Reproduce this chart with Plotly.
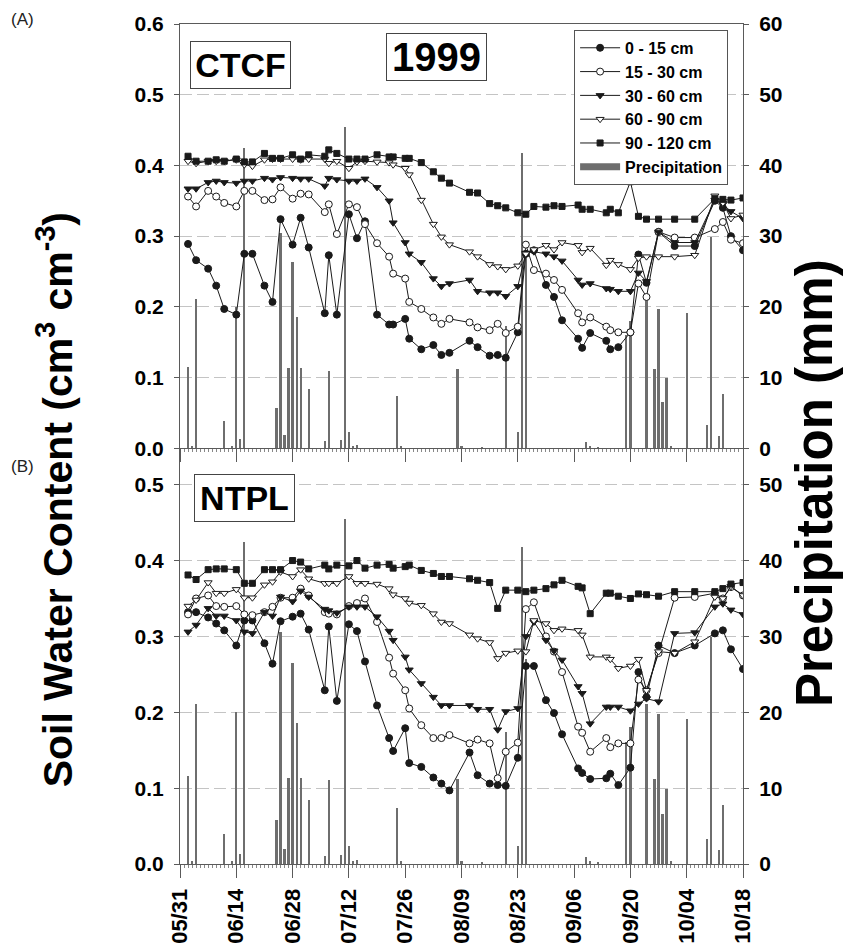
import plotly.graph_objects as go

# ---------------- data ----------------
DATES = ["1999-06-02", "1999-06-04", "1999-06-07", "1999-06-09", "1999-06-11", "1999-06-14",
         "1999-06-16", "1999-06-18", "1999-06-21", "1999-06-23", "1999-06-25", "1999-06-28",
         "1999-06-30", "1999-07-02", "1999-07-06", "1999-07-07", "1999-07-09", "1999-07-12",
         "1999-07-14", "1999-07-16", "1999-07-19", "1999-07-22", "1999-07-23", "1999-07-26",
         "1999-07-27", "1999-07-30", "1999-08-02", "1999-08-04", "1999-08-06", "1999-08-11",
         "1999-08-13", "1999-08-16", "1999-08-18", "1999-08-20", "1999-08-23", "1999-08-25",
         "1999-08-27", "1999-08-30", "1999-09-01", "1999-09-03", "1999-09-07", "1999-09-08",
         "1999-09-10", "1999-09-14", "1999-09-15", "1999-09-17", "1999-09-20", "1999-09-22",
         "1999-09-24", "1999-09-27", "1999-10-01", "1999-10-06", "1999-10-11", "1999-10-13",
         "1999-10-15", "1999-10-18"]

# CTCF (panel A)
CTCF_0_15 = [0.289, 0.266, 0.254, 0.230, 0.197, 0.189, 0.275, 0.275, 0.230, 0.207, 0.324, 0.288,
             0.326, 0.284, 0.191, 0.273, 0.189, 0.331, 0.297, 0.321, 0.189, 0.175, 0.175, 0.183,
             0.155, 0.140, 0.146, 0.132, 0.135, 0.152, 0.143, 0.131, 0.132, 0.128, 0.164, 0.275,
             0.280, 0.231, 0.214, 0.181, 0.155, 0.142, 0.163, 0.152, 0.140, 0.143, 0.164, 0.274,
             0.234, 0.306, 0.286, 0.286, 0.350, 0.340, 0.300, 0.280]
CTCF_15_30 = [0.356, 0.342, 0.364, 0.356, 0.347, 0.342, 0.364, 0.364, 0.351, 0.352, 0.369, 0.353,
              0.360, 0.359, 0.334, 0.345, 0.303, 0.345, 0.341, 0.317, 0.290, 0.271, 0.247, 0.240,
              0.207, 0.197, 0.185, 0.176, 0.183, 0.178, 0.171, 0.167, 0.176, 0.163, 0.172, 0.288,
              0.252, 0.247, 0.238, 0.224, 0.191, 0.178, 0.185, 0.172, 0.167, 0.164, 0.164, 0.233,
              0.214, 0.306, 0.298, 0.298, 0.310, 0.320, 0.295, 0.290]
CTCF_30_60 = [0.367, 0.367, 0.376, 0.378, 0.376, 0.375, 0.378, 0.378, 0.382, 0.380, 0.383, 0.382,
              0.381, 0.381, 0.371, 0.382, 0.380, 0.378, 0.378, 0.381, 0.369, 0.350, 0.319, 0.291,
              0.275, 0.263, 0.240, 0.229, 0.233, 0.238, 0.222, 0.220, 0.220, 0.215, 0.229, 0.276,
              0.278, 0.275, 0.271, 0.265, 0.238, 0.231, 0.233, 0.226, 0.225, 0.222, 0.222, 0.248,
              0.236, 0.306, 0.291, 0.291, 0.351, 0.345, 0.335, 0.325]
CTCF_60_90 = [0.406, 0.403, 0.406, 0.406, 0.406, 0.408, 0.401, 0.399, 0.408, 0.409, 0.409, 0.409,
              0.408, 0.409, 0.409, 0.403, 0.406, 0.396, 0.405, 0.406, 0.405, 0.404, 0.401, 0.396,
              0.387, 0.351, 0.317, 0.299, 0.288, 0.278, 0.271, 0.260, 0.257, 0.253, 0.258, 0.275,
              0.281, 0.287, 0.281, 0.291, 0.287, 0.277, 0.283, 0.259, 0.266, 0.260, 0.253, 0.269,
              0.271, 0.271, 0.271, 0.273, 0.357, 0.347, 0.325, 0.330]
CTCF_90_120 = [0.413, 0.406, 0.406, 0.408, 0.406, 0.409, 0.405, 0.405, 0.417, 0.410, 0.410, 0.415,
               0.409, 0.415, 0.413, 0.422, 0.417, 0.409, 0.409, 0.409, 0.415, 0.412, 0.412, 0.410,
               0.410, 0.404, 0.391, 0.382, 0.375, 0.362, 0.361, 0.346, 0.343, 0.340, 0.333, 0.331,
               0.342, 0.341, 0.343, 0.342, 0.344, 0.338, 0.338, 0.333, 0.338, 0.333, 0.377, 0.328,
               0.324, 0.324, 0.324, 0.324, 0.353, 0.352, 0.351, 0.354]

# NTPL (panel B)
NTPL_0_15 = [0.332, 0.332, 0.325, 0.317, 0.308, 0.288, 0.321, 0.321, 0.291, 0.264, 0.320, 0.326,
             0.330, 0.309, 0.229, 0.313, 0.215, 0.316, 0.307, 0.267, 0.209, 0.166, 0.149, 0.179,
             0.133, 0.128, 0.114, 0.106, 0.097, 0.147, 0.117, 0.106, 0.104, 0.103, 0.140, 0.261,
             0.261, 0.216, 0.199, 0.171, 0.126, 0.120, 0.112, 0.113, 0.119, 0.104, 0.127, 0.253,
             0.220, 0.288, 0.278, 0.288, 0.304, 0.308, 0.283, 0.257]
NTPL_15_30 = [0.329, 0.350, 0.354, 0.340, 0.339, 0.340, 0.329, 0.328, 0.332, 0.339, 0.351, 0.351,
              0.363, 0.354, 0.332, 0.330, 0.329, 0.340, 0.344, 0.350, 0.319, 0.272, 0.251, 0.229,
              0.205, 0.183, 0.166, 0.166, 0.170, 0.159, 0.164, 0.159, 0.113, 0.148, 0.160, 0.336,
              0.345, 0.300, 0.280, 0.253, 0.181, 0.173, 0.148, 0.166, 0.154, 0.159, 0.159, 0.243,
              0.229, 0.278, 0.351, 0.352, 0.357, 0.350, 0.365, 0.354]
NTPL_30_60 = [0.306, 0.315, 0.337, 0.327, 0.327, 0.321, 0.306, 0.304, 0.332, 0.327, 0.352, 0.346,
              0.360, 0.352, 0.336, 0.334, 0.331, 0.339, 0.339, 0.339, 0.326, 0.307, 0.295, 0.273,
              0.256, 0.238, 0.220, 0.209, 0.209, 0.209, 0.204, 0.204, 0.177, 0.201, 0.205, 0.300,
              0.319, 0.295, 0.281, 0.269, 0.234, 0.225, 0.185, 0.207, 0.207, 0.207, 0.202, 0.211,
              0.218, 0.214, 0.304, 0.305, 0.339, 0.343, 0.335, 0.329]
NTPL_60_90 = [0.340, 0.348, 0.371, 0.357, 0.357, 0.362, 0.351, 0.351, 0.368, 0.372, 0.385, 0.379,
              0.388, 0.376, 0.370, 0.370, 0.370, 0.379, 0.370, 0.370, 0.369, 0.363, 0.355, 0.350,
              0.344, 0.341, 0.330, 0.319, 0.317, 0.302, 0.297, 0.292, 0.271, 0.278, 0.281, 0.280,
              0.321, 0.317, 0.308, 0.310, 0.308, 0.302, 0.273, 0.273, 0.270, 0.258, 0.261, 0.270,
              0.229, 0.280, 0.278, 0.293, 0.352, 0.350, 0.366, 0.354]
NTPL_90_120 = [0.381, 0.375, 0.388, 0.389, 0.389, 0.388, 0.370, 0.370, 0.388, 0.388, 0.388, 0.400,
               0.398, 0.389, 0.394, 0.389, 0.394, 0.393, 0.400, 0.390, 0.394, 0.395, 0.390, 0.392,
               0.394, 0.387, 0.383, 0.379, 0.379, 0.376, 0.374, 0.371, 0.337, 0.361, 0.361, 0.359,
               0.361, 0.363, 0.368, 0.374, 0.366, 0.364, 0.330, 0.357, 0.357, 0.353, 0.350, 0.356,
               0.355, 0.353, 0.359, 0.359, 0.359, 0.363, 0.369, 0.371]

PRECIP_DATES = ["1999-06-02", "1999-06-03", "1999-06-04", "1999-06-11", "1999-06-13", "1999-06-14",
                "1999-06-15", "1999-06-16", "1999-06-24", "1999-06-25", "1999-06-26", "1999-06-27",
                "1999-06-28", "1999-06-29", "1999-06-30", "1999-07-02", "1999-07-06", "1999-07-07",
                "1999-07-10", "1999-07-11", "1999-07-12", "1999-07-13", "1999-07-14", "1999-07-24",
                "1999-07-25", "1999-08-08", "1999-08-09", "1999-08-14", "1999-08-20", "1999-08-23",
                "1999-08-24", "1999-08-25", "1999-09-09", "1999-09-10", "1999-09-12", "1999-09-19",
                "1999-09-20", "1999-09-24", "1999-09-26", "1999-09-27", "1999-09-28", "1999-09-29",
                "1999-09-30", "1999-10-04", "1999-10-09", "1999-10-10", "1999-10-12", "1999-10-13"]
PRECIP_MM = [11.5, 0.3, 21.1, 3.9, 0.3, 20.0,
             1.3, 42.4, 5.7, 30.5, 1.9, 11.3,
             26.4, 18.6, 11.3, 8.4, 1.0, 11.0,
             1.2, 45.5, 2.3, 0.3, 0.5, 7.4,
             0.3, 11.2, 0.3, 0.2, 17.3, 2.3,
             41.8, 27.0, 0.9, 0.3, 0.2, 16.0,
             18.0, 21.0, 11.2, 19.7, 6.6, 9.9,
             0.3, 19.1, 3.3, 29.9, 1.8, 7.7]

LAYERS = ["0 - 15 cm", "15 - 30 cm", "30 - 60 cm", "60 - 90 cm", "90 - 120 cm"]
CTCF = [CTCF_0_15, CTCF_15_30, CTCF_30_60, CTCF_60_90, CTCF_90_120]
NTPL = [NTPL_0_15, NTPL_15_30, NTPL_30_60, NTPL_60_90, NTPL_90_120]

# ---------------- styling ----------------
FONT = "Liberation Sans"
AXC = "#5a5a5a"
BARC = "#6e6e6e"
LINEC = "#1a1a1a"
GRIDC = "#c4c4c4"
STYLES = [("circle", LINEC, 7), ("circle", "white", 7), ("triangle-down", LINEC, 7),
          ("triangle-down", "white", 7), ("square", LINEC, 6)]
DAY_MS = 86400000

fig = go.Figure()

for panel, (series, xa, ybar, yline) in enumerate([(CTCF, "x", "y", "y3"), (NTPL, "x2", "y2", "y4")]):
    fig.add_trace(go.Bar(x=PRECIP_DATES, y=PRECIP_MM, xaxis=xa, yaxis=ybar,
                         width=0.55 * DAY_MS, marker=dict(color=BARC, line=dict(width=0)),
                         showlegend=False, name="Precipitation"))
    for name, vals, (sym, fillc, size) in zip(LAYERS, series, STYLES):
        fig.add_trace(go.Scatter(
            x=DATES, y=vals, xaxis=xa, yaxis=yline, mode="lines+markers", name=name,
            line=dict(color=LINEC, width=1),
            marker=dict(symbol=sym, size=size, color=fillc, line=dict(color=LINEC, width=1)),
            showlegend=(panel == 0)))

fig.add_trace(go.Scatter(x=[None], y=[None], xaxis="x", yaxis="y3", mode="lines",
                         name="Precipitation", line=dict(color=BARC, width=7)))

tickfont = dict(family=FONT, size=21, color="black", weight="bold")
xtickfont = dict(family=FONT, size=22, color="black", weight="bold")
xcommon = dict(type="date", range=["1999-05-31", "1999-10-18"], tick0="1999-05-31",
               dtick=14 * DAY_MS, ticks="outside", ticklen=13, tickcolor=AXC, tickwidth=1,
               showline=True, linecolor=AXC, linewidth=1, showgrid=False, zeroline=False,
               automargin=False,
               minor=dict(dtick=DAY_MS, ticks="outside", ticklen=3, tickcolor="#888",
                          showgrid=False))
ycommon = dict(ticks="outside", ticklen=5, tickcolor=AXC, showline=True, linecolor=AXC,
               linewidth=1, zeroline=False, tickfont=tickfont, ticklabelstandoff=6,
               automargin=False)

TOP = [0.4949, 1.0]
BOT = [0.0, 0.4949]

fig.update_layout(
    width=844, height=950,
    margin=dict(l=180, r=101, t=24, b=86, autoexpand=False),
    paper_bgcolor="white", plot_bgcolor="white",
    bargap=0,
    xaxis=dict(**xcommon, anchor="y", domain=[0, 1], showticklabels=False, mirror=True),
    xaxis2=dict(**xcommon, anchor="y2", domain=[0, 1], showticklabels=True, tickformat="%m/%d",
                tickangle=-90, tickfont=xtickfont, ticklabelstandoff=2),
    yaxis=dict(**ycommon, domain=TOP, anchor="x", side="right", range=[0, 60], dtick=10,
               showgrid=True, gridcolor=GRIDC, griddash="12px,5px", gridwidth=1),
    yaxis3=dict(**ycommon, overlaying="y", anchor="x", side="left", range=[0, 0.6], dtick=0.1,
                tickformat=".1f", showgrid=False),
    yaxis2=dict(**ycommon, domain=BOT, anchor="x2", side="right", range=[0, 54.8], dtick=10,
                showgrid=True, gridcolor=GRIDC, griddash="12px,5px", gridwidth=1),
    yaxis4=dict(**ycommon, overlaying="y2", anchor="x2", side="left", range=[0, 0.548], dtick=0.1,
                tickformat=".1f", showgrid=False),
    legend=dict(x=0.70, y=0.993, xanchor="left", yanchor="top", bgcolor="white",
                bordercolor="#555", borderwidth=1, itemwidth=40, tracegroupgap=0,
                font=dict(family=FONT, size=16, color="black", weight="bold")),
    font=dict(family=FONT, color="black"),
)

boxfont = dict(family=FONT, color="black", weight="bold")
center = dict(xref="paper", yref="paper", showarrow=False, xanchor="center", yanchor="middle")
fig.add_annotation(text="CTCF", x=0.1066, y=0.951, **center,
                   font=dict(**boxfont, size=34), bordercolor="#444", borderwidth=1, borderpad=0,
                   width=99, height=46, bgcolor="white")
fig.add_annotation(text="1999", x=0.4556, y=0.9607, **center,
                   font=dict(**boxfont, size=40), bordercolor="#444", borderwidth=1, borderpad=0,
                   width=99, height=46, bgcolor="white")
fig.add_annotation(text="NTPL", x=0.1152, y=0.4354, **center,
                   font=dict(**boxfont, size=34), bordercolor="#444", borderwidth=1, borderpad=0,
                   width=99, height=46, bgcolor="white")
fig.add_annotation(text="(A)", x=-0.2806, y=1.0048, **center,
                   font=dict(family=FONT, size=17, color="#222"))
fig.add_annotation(text="(B)", x=-0.2806, y=0.4738, **center,
                   font=dict(family=FONT, size=17, color="#222"))
fig.add_annotation(text="Soil Water Content (cm<sup>3</sup> cm<sup>-3</sup>)",
                   x=-0.222, y=0.433, **center, textangle=-90,
                   font=dict(family=FONT, size=41, color="black", weight="bold"))
fig.add_annotation(text="Precipitation (mm)", x=1.128, y=0.4536, **center, textangle=-90,
                   font=dict(family=FONT, size=51, color="black", weight="bold"))

fig.write_html("out.html")
